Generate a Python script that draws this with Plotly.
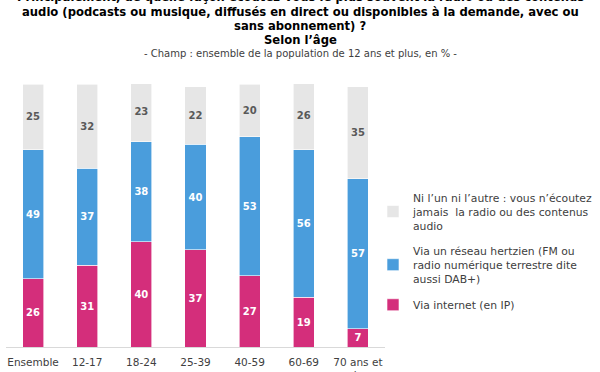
import plotly.graph_objects as go

categories = ["Ensemble", "12-17<br>ans", "18-24<br>ans", "25-39<br>ans", "40-59<br>ans", "60-69<br>ans", "70 ans et<br>plus"]
via_internet = [26, 31, 40, 37, 27, 19, 7]
via_hertzien = [49, 37, 38, 40, 53, 56, 57]
ni_l_un = [25, 32, 23, 22, 20, 26, 35]

names = [
    "Via internet (en IP)",
    "Via un réseau hertzien (FM ou<br>radio numérique terrestre dite<br>aussi DAB+)",
    "Ni l’un ni l’autre : vous n’écoutez<br>jamais  la radio ou des contenus<br>audio",
]
colors = ["#D42E7B", "#4A9DDC", "#E6E6E6"]
text_colors = ["white", "white", "#595959"]
ranks = [3, 2, 1]
series = [via_internet, via_hertzien, ni_l_un]

FONT = "DejaVu Sans"
fig = go.Figure()
for i, (vals, name, col, tcol) in enumerate(zip(series, names, colors, text_colors)):
    fig.add_trace(go.Bar(
        x=categories, y=vals, name=name,
        marker=dict(color=col, line=dict(color="white", width=0.6)),
        text=[str(v) for v in vals], textposition="inside",
        insidetextanchor="middle", textangle=0,
        textfont=dict(family=FONT, size=10, color=tcol, weight="bold"),
        legendgroup=str(i), legendrank=ranks[i], width=0.39,
    ))

H0, H = 347, 263
def py(ypx):
    return (H0 - ypx) / H

title_lines = [
    ("Principalement, de quelle façon écoutez-vous le plus souvent la radio ou des contenus", -3, 11.6, True),
    ("audio (podcasts ou musique, diffusés en direct ou disponibles à la demande, avec ou", 12, 11.6, True),
    ("sans abonnement) ?", 26, 11.6, True),
    ("Selon l’âge", 40, 11.6, True),
    ("- Champ : ensemble de la population de 12 ans et plus, en % -", 54, 10, False),
]
anns = []
for txt, ypx, size, bold in title_lines:
    anns.append(dict(
        text=txt, xref="paper", yref="paper",
        x=(300 - 6) / 379, y=py(ypx), xanchor="center", yanchor="middle",
        showarrow=False,
        font=dict(family=FONT, size=size, color="black" if bold else "#404040",
                  weight="bold" if bold else "normal"),
    ))

fig.update_layout(
    width=600, height=372,
    margin=dict(l=6, r=215, t=84, b=25, autoexpand=False),
    barmode="stack",
    plot_bgcolor="white", paper_bgcolor="white",
    annotations=anns,
    showlegend=True,
    legend=dict(
        x=(373 - 6) / 379, y=py(184), xanchor="left", yanchor="top",
        traceorder="grouped", tracegroupgap=8,
        font=dict(family=FONT, size=10.8, color="#404040"),
        itemwidth=30, bgcolor="rgba(0,0,0,0)",
    ),
    xaxis=dict(
        showline=True, linecolor="#D9D9D9", linewidth=1,
        tickfont=dict(family=FONT, size=10.5, color="#404040"),
        ticks="", showgrid=False, automargin=False, ticklabelstandoff=5,
    ),
    yaxis=dict(visible=False, range=[0, 100], showgrid=False, automargin=False),
    bargap=0.61,
)

fig.write_html(
    "out.html",
    config={"displayModeBar": False},
    post_script="document.body.style.margin='0px';document.body.style.overflow='hidden';",
)
